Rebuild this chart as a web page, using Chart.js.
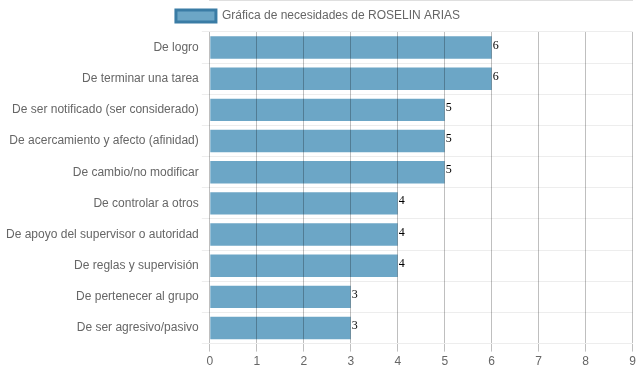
<!DOCTYPE html>
<html>
<head>
<meta charset="utf-8">
<script src="https://cdn.jsdelivr.net/npm/chart.js@4"></script>
<style>
	html, body { margin: 0; padding: 0; background: #fff; }
	#wrap { width: 639px; height: 372px; }
</style>
</head>
<body>
<div id="wrap"><canvas id="barChart"></canvas></div>
<script>
const categories = [
	'De logro',
	'De terminar una tarea',
	'De ser notificado (ser considerado)',
	'De acercamiento y afecto (afinidad)',
	'De cambio/no modificar',
	'De controlar a otros',
	'De apoyo del supervisor o autoridad',
	'De reglas y supervisión',
	'De pertenecer al grupo',
	'De ser agresivo/pasivo'
];
const values = [6, 6, 5, 5, 5, 4, 4, 4, 3, 3];
const seriesName = 'Gráfica de necesidades de ROSELIN ARIAS';

Chart.defaults.font.family = '"Liberation Sans", Arial, sans-serif';
Chart.defaults.font.size = 12;
Chart.defaults.color = '#666';

// value labels at the end of each bar
const valueLabels = {
	id: 'valueLabels',
	afterDatasetsDraw(chart) {
		const ctx = chart.ctx;
		ctx.save();
		ctx.font = '12px "Liberation Serif", serif';
		ctx.fillStyle = '#000';
		ctx.textAlign = 'left';
		ctx.textBaseline = 'alphabetic';
		chart.getDatasetMeta(0).data.forEach((bar, i) => {
			ctx.fillText(values[i], bar.x + 1, bar.y + 1);
		});
		ctx.restore();
	}
};

const barCtx = document.getElementById('barChart').getContext('2d');
new Chart(barCtx, {
	type: 'bar',
	data: {
		labels: categories,
		datasets: [{
			label: seriesName,
			data: values,
			backgroundColor: 'rgba(108, 166, 198, 1)',
			borderColor: 'rgba(58, 124, 165, 1)',
			borderWidth: 0
		}]
	},
	options: {
		indexAxis: 'y',
		responsive: true,
		maintainAspectRatio: false,
		animation: false,
		layout: { padding: { left: 3, right: 6, top: 0, bottom: 0 } },
		plugins: {
			legend: {
				labels: {
					boxWidth: 40,
					color: '#666',
					generateLabels(chart) {
						return [{
							text: seriesName,
							fillStyle: 'rgba(108, 166, 198, 1)',
							strokeStyle: 'rgba(58, 124, 165, 1)',
							fontColor: '#666',
							lineWidth: 3,
							datasetIndex: 0
						}];
					}
				}
			},
			tooltip: { enabled: false }
		},
		scales: {
			x: {
				min: 0,
				max: 9,
				ticks: { stepSize: 1, color: '#666' },
				grid: {
					z: 1,
					color: 'rgba(0, 0, 0, 0.25)',
					tickLength: 8
				},
				border: { color: 'rgba(0, 0, 0, 0.25)' }
			},
			y: {
				ticks: { color: '#666' },
				grid: {
					color: 'rgba(0, 0, 0, 0.07)',
					tickLength: 8
				},
				border: { display: false }
			}
		}
	},
	plugins: [valueLabels]
});
</script>
</body>
</html>
